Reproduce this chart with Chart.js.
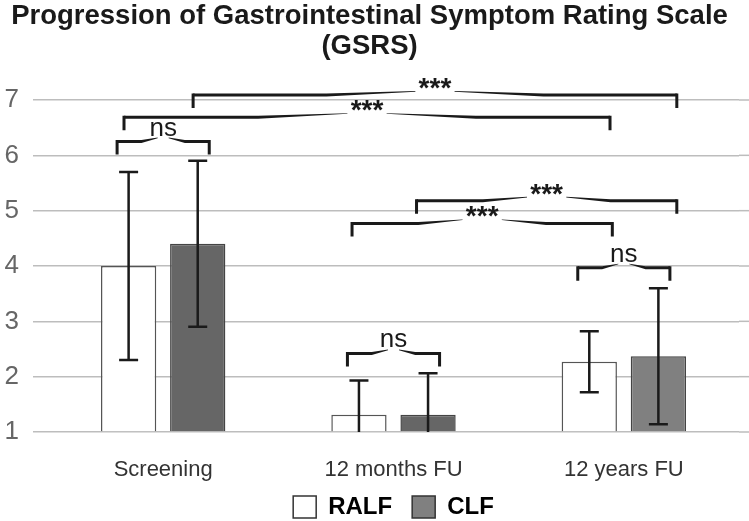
<!DOCTYPE html>
<html>
<head>
<meta charset="utf-8">
<script src="https://cdn.jsdelivr.net/npm/chart.js@4.4.1/dist/chart.umd.min.js"></script>
<style>
  html, body { margin: 0; padding: 0; background: #fff; }
  #wrap { width: 749px; height: 521px; }
</style>
</head>
<body>
<div id="wrap"><canvas id="c" width="749" height="521"></canvas></div>
<script>
// ── Data ──
const categories = ['Screening', '12 months FU', '12 years FU'];
const ralfMean = [4.0, 1.31, 2.27];
const ralfSd   = [1.7, 0.62, 0.55];
const clfMean  = [4.4, 1.31, 2.37];
const clfSd    = [1.5, 0.75, 1.23];
const yTicks   = [1, 2, 3, 4, 5, 6, 7];

// significance brackets: ends in category units, height in scale units
const brackets = [
  { from: -0.20, to: 0.20, y: 6.25, label: 'ns' },
  { from:  0.13, to: 2.23, y: 7.09, label: '***' },
  { from: -0.17, to: 1.94, y: 6.69, label: '***' },
  { from:  1.10, to: 2.23, y: 5.18, label: '***' },
  { from:  0.82, to: 1.95, y: 4.77, label: '***' },
  { from:  1.80, to: 2.20, y: 3.97, label: 'ns' },
  { from:  0.80, to: 1.20, y: 2.42, label: 'ns' },
];

const FONT = '"Liberation Sans", Arial, sans-serif';
const INK = '#1a1a1a';
const GRID = '#bdbdbd';

// ── Grid lines run on to the right edge ──
const gridRun = {
  id: 'gridRun',
  beforeDatasetsDraw(chart) {
    const { ctx, chartArea: a, scales: { y }, width } = chart;
    ctx.save();
    ctx.strokeStyle = GRID; ctx.lineWidth = 1.5;
    y.ticks.forEach(t => {
      const py = y.getPixelForValue(t.value);
      ctx.beginPath(); ctx.moveTo(a.right, py); ctx.lineTo(width, py); ctx.stroke();
    });
    ctx.restore();
  }
};

// ── Error bars ──
const errorBars = {
  id: 'errorBars',
  afterDatasetsDraw(chart) {
    const { ctx, chartArea: a, scales: { y } } = chart;
    const sds = [ralfSd, clfSd];
    ctx.save();
    ctx.beginPath(); ctx.rect(a.left, a.top - 40, a.right - a.left, a.bottom - a.top + 40); ctx.clip();
    ctx.strokeStyle = INK; ctx.lineWidth = 2.5;
    chart.data.datasets.forEach((ds, di) => {
      chart.getDatasetMeta(di).data.forEach((bar, i) => {
        const m = ds.data[i], sd = sds[di][i];
        const top = y.getPixelForValue(m + sd), bot = y.getPixelForValue(m - sd);
        ctx.beginPath();
        ctx.moveTo(bar.x, top); ctx.lineTo(bar.x, bot);
        ctx.moveTo(bar.x - 9.5, top); ctx.lineTo(bar.x + 9.5, top);
        ctx.moveTo(bar.x - 9.5, bot); ctx.lineTo(bar.x + 9.5, bot);
        ctx.stroke();
      });
    });
    ctx.restore();
  }
};

// ── Brackets ──
const sigBrackets = {
  id: 'sigBrackets',
  afterDraw(chart) {
    const { ctx, scales: { x, y } } = chart;
    const cw = x.getPixelForValue(1) - x.getPixelForValue(0);
    ctx.save();
    ctx.fillStyle = INK; ctx.strokeStyle = INK;
    brackets.forEach(b => {
      const x1 = x.getPixelForValue(0) + b.from * cw;
      const x2 = x.getPixelForValue(0) + b.to * cw;
      const py = y.getPixelForValue(b.y);
      const cx = (x1 + x2) / 2;
      const stars = b.label === '***';
      ctx.font = stars ? `bold 28px ${FONT}` : `26px ${FONT}`;
      const tw = ctx.measureText(b.label).width;
      const gap = stars ? tw * 0.6 : tw * 0.2;
      // ticks
      ctx.lineWidth = 3;
      ctx.beginPath();
      ctx.moveTo(x1, py - 1.5); ctx.lineTo(x1, py + 13);
      ctx.moveTo(x2, py - 1.5); ctx.lineTo(x2, py + 13);
      ctx.stroke();
      // tapered arms
      [[x1, cx - gap], [x2, cx + gap]].forEach(([xe, xg]) => {
        const xm = xe + (xg - xe) * 0.6;
        ctx.beginPath();
        ctx.moveTo(xe, py - 1.5); ctx.lineTo(xm, py - 1.5); ctx.lineTo(xg, py - 4);
        ctx.lineTo(xg, py - 3.3); ctx.lineTo(xm, py + 1.5); ctx.lineTo(xe, py + 1.5);
        ctx.closePath(); ctx.fill();
      });
      ctx.textAlign = 'center';
      ctx.textBaseline = 'alphabetic';
      ctx.fillText(b.label, cx, stars ? py + 2 : py - 6);
    });
    ctx.restore();
  }
};

// ── Legend box: fixed height, items drawn a little higher ──
const legendFit = {
  id: 'legendFit',
  beforeLayout(chart) {
    const lg = chart.legend;
    if (lg && !lg._fixed) {
      const fit = lg.fit.bind(lg);
      lg.fit = function () { fit(); this.height = 39; };
      lg._fixed = true;
    }
  },
  afterLayout(chart) {
    chart.legend.top = 475;
  }
};

new Chart(document.getElementById('c'), {
  type: 'bar',
  data: {
    labels: categories,
    datasets: [
      { label: 'RALF', data: ralfMean, base: 1, backgroundColor: '#ffffff', borderColor: '#555555', borderWidth: 1.5 },
      { label: 'CLF',  data: clfMean,  base: 1, backgroundColor: ['#666666', '#666666', '#808080'], borderColor: '#444444', borderWidth: 1.5 },
    ]
  },
  options: {
    responsive: false,
    animation: false,
    layout: { padding: { left: 0, right: 10, top: 0, bottom: 0 } },
    categoryPercentage: 0.6,
    barPercentage: 0.8,
    plugins: {
      title: {
        display: true,
        text: ['Progression of Gastrointestinal Symptom Rating Scale', '(GSRS)'],
        color: INK,
        font: { family: FONT, size: 27.5, weight: 'bold', lineHeight: 1.1 },
        padding: { top: 1, bottom: 38.5 }
      },
      legend: {
        position: 'bottom',
        fullSize: false,
        labels: {
          color: INK,
          font: { family: FONT, size: 24, weight: 'bold' },
          boxWidth: 23, boxHeight: 22, padding: 20,
          generateLabels: () => [
            { text: 'RALF', fillStyle: '#ffffff', strokeStyle: '#333333', lineWidth: 1.5, datasetIndex: 0 },
            { text: 'CLF',  fillStyle: '#808080', strokeStyle: '#333333', lineWidth: 1.5, datasetIndex: 1 },
          ]
        }
      },
      tooltip: { enabled: false }
    },
    scales: {
      x: {
        grid: { display: false },
        border: { display: false },
        ticks: { color: '#333333', font: { family: FONT, size: 22 }, padding: 17 },
        afterFit: s => { s.height = 50; }
      },
      y: {
        min: 1, max: 7,
        afterBuildTicks: s => { s.ticks = yTicks.map(v => ({ value: v })); },
        grid: { color: GRID, lineWidth: 1.5, tickLength: 15, drawTicks: true, tickColor: GRID },
        border: { display: false },
        ticks: { color: '#666666', font: { family: FONT, size: 26 }, padding: 14 },
        afterFit: s => { s.width = 48; }
      }
    }
  },
  plugins: [gridRun, errorBars, sigBrackets, legendFit]
});
</script>
</body>
</html>
